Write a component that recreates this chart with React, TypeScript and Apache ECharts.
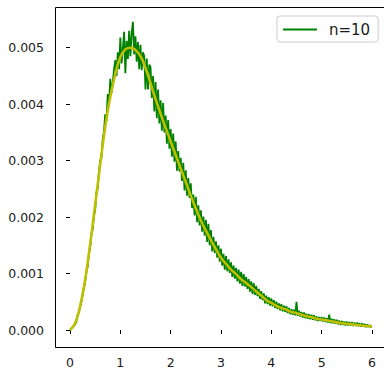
import React, { useEffect, useRef } from "react";
import * as echarts from "echarts";

// Noisy density (n=10), units of 1e-3, sampled every 0.025 from x=0 to x=6
const GREEN_STEP = 0.025;
const greenValues = [
  0.00, 0.02, 0.05, 0.07, 0.10, 0.14, 0.27, 0.30, 0.40, 0.49,
  0.62, 0.74, 0.84, 1.02, 1.12, 1.34, 1.45, 1.70, 1.78, 2.02,
  2.12, 2.44, 2.50, 2.80, 3.00, 3.05, 3.38, 3.52, 3.82, 3.70,
  4.18, 3.98, 4.45, 4.20, 4.38, 4.62, 4.78, 4.50, 4.92, 4.62,
  5.18, 4.72, 4.98, 5.28, 4.55, 5.12, 4.80, 5.30, 4.85, 5.25,
  5.46, 4.88, 5.20, 4.75, 5.10, 4.62, 5.05, 4.60, 4.92, 4.85,
  4.26, 4.81, 4.26, 4.70, 4.66, 4.11, 4.50, 3.87, 4.39, 3.75,
  4.26, 3.66, 4.07, 3.53, 4.02, 3.50, 3.80, 3.30, 3.72, 3.21,
  3.56, 3.07, 3.48, 2.98, 3.34, 2.82, 3.17, 2.81, 3.05, 2.64,
  2.96, 2.47, 2.83, 2.38, 2.69, 2.34, 2.60, 2.16, 2.40, 2.03,
  2.36, 1.91, 2.21, 1.85, 2.12, 1.74, 2.01, 1.67, 1.95, 1.56,
  1.88, 1.50, 1.77, 1.39, 1.65, 1.36, 1.57, 1.28, 1.50, 1.21,
  1.44, 1.14, 1.35, 1.07, 1.31, 1.04, 1.25, 1.01, 1.20, 0.94,
  1.14, 0.91, 1.10, 0.86, 1.07, 0.82, 1.03, 0.78, 0.99, 0.77,
  0.94, 0.73, 0.90, 0.68, 0.86, 0.64, 0.83, 0.62, 0.78, 0.60,
  0.73, 0.55, 0.69, 0.53, 0.65, 0.47, 0.61, 0.46, 0.58, 0.43,
  0.56, 0.42, 0.53, 0.39, 0.50, 0.37, 0.47, 0.35, 0.46, 0.33,
  0.43, 0.32, 0.42, 0.30, 0.39, 0.28, 0.37, 0.27, 0.36, 0.26,
  0.50, 0.25, 0.34, 0.24, 0.32, 0.22, 0.31, 0.21, 0.29, 0.20,
  0.28, 0.19, 0.27, 0.18, 0.26, 0.17, 0.24, 0.16, 0.23, 0.16,
  0.23, 0.15, 0.22, 0.14, 0.21, 0.13, 0.27, 0.12, 0.20, 0.12,
  0.19, 0.11, 0.18, 0.10, 0.17, 0.09, 0.16, 0.09, 0.15, 0.08,
  0.15, 0.08, 0.14, 0.08, 0.14, 0.07, 0.13, 0.07, 0.13, 0.07,
  0.12, 0.06, 0.12, 0.06, 0.11, 0.05, 0.10, 0.05, 0.09, 0.05,
  0.07,
];

// Smooth fitted curve, units of 1e-3, sampled every 0.1 from x=0 to x=6
const YELLOW_STEP = 0.1;
const yellowValues = [
  0.00, 0.12, 0.42, 0.89, 1.52, 2.22, 2.93, 3.60, 4.13, 4.53,
  4.83, 4.97, 5.00, 4.96, 4.85, 4.64, 4.37, 4.09, 3.83, 3.58,
  3.34, 3.10, 2.86, 2.62, 2.38, 2.15, 1.94, 1.76, 1.59, 1.43,
  1.28, 1.17, 1.07, 0.99, 0.90, 0.83, 0.76, 0.68, 0.61, 0.53,
  0.48, 0.43, 0.39, 0.36, 0.32, 0.30, 0.27, 0.245, 0.225, 0.20,
  0.185, 0.17, 0.155, 0.135, 0.12, 0.11, 0.10, 0.09, 0.08, 0.07,
  0.065,
];

const xTicks = [0, 1, 2, 3, 4, 5, 6];
const yTicks = [0, 0.001, 0.002, 0.003, 0.004, 0.005];
const legendLabel = "n=10";

export default function App() {
  const ref = useRef<HTMLDivElement>(null);
  useEffect(() => {
    if (!ref.current) return;
    const chart = echarts.init(ref.current, null, { renderer: "svg" });
    const greenData = greenValues.map((v, i) => [
      +(i * GREEN_STEP).toFixed(3),
      v / 1000,
    ]);
    const yellowData = yellowValues.map((v, i) => [
      +(i * YELLOW_STEP).toFixed(1),
      v / 1000,
    ]);
    const font = "DejaVu Sans";
    chart.setOption({
      animation: false,
      backgroundColor: "#ffffff",
      grid: { left: 70, top: 47.7, width: 302, height: 284.3, containLabel: false },
      xAxis: {
        type: "value",
        min: xTicks[0],
        max: xTicks[xTicks.length - 1],
        interval: 1,
        offset: 15,
        axisLine: { show: false },
        axisTick: { show: true, length: 4, lineStyle: { color: "#000", width: 1 } },
        axisLabel: { margin: 11, fontFamily: font, fontSize: 12.5, color: "#1a1a1a" },
        splitLine: { show: false },
      },
      yAxis: {
        type: "value",
        min: yTicks[0],
        max: yTicks[yTicks.length - 1],
        interval: 0.001,
        offset: 15,
        axisLine: { show: false },
        axisTick: { show: true, length: 4, lineStyle: { color: "#000", width: 1 } },
        axisLabel: {
          margin: 11,
          fontFamily: font,
          fontSize: 12.5,
          color: "#1a1a1a",
          formatter: (v: number) => v.toFixed(3),
        },
        splitLine: { show: false },
      },
      legend: {
        data: [legendLabel],
        left: 277,
        top: 16,
        icon: "rect",
        itemWidth: 34,
        itemHeight: 2,
        padding: [5, 8, 4, 6],
        borderColor: "#cccccc",
        borderWidth: 1,
        borderRadius: 3,
        backgroundColor: "rgba(255,255,255,0.8)",
        textStyle: { fontFamily: font, fontSize: 15, color: "#1a1a1a", padding: [0, 0, 0, 7], lineHeight: 17 },
      },
      graphic: [
        {
          type: "rect",
          shape: { x: 55.5, y: 7.5, width: 332, height: 340 },
          style: { fill: "none", stroke: "#000", lineWidth: 1 },
          silent: true,
          z: 10,
        },
      ],
      series: [
        {
          name: legendLabel,
          type: "line",
          data: greenData,
          showSymbol: false,
          clip: false,
          lineStyle: { color: "#008000", width: 1.8 },
          itemStyle: { color: "#008000" },
          z: 2,
        },
        {
          name: "fit",
          type: "line",
          data: yellowData,
          smooth: true,
          showSymbol: false,
          clip: false,
          lineStyle: { color: "#bfbf00", width: 2.6 },
          itemStyle: { color: "#bfbf00" },
          z: 3,
        },
      ],
    });
    return () => chart.dispose();
  }, []);
  return (
    <div
      ref={ref}
      style={{ position: "fixed", left: 0, top: 0, width: 384, height: 369 }}
    />
  );
}
